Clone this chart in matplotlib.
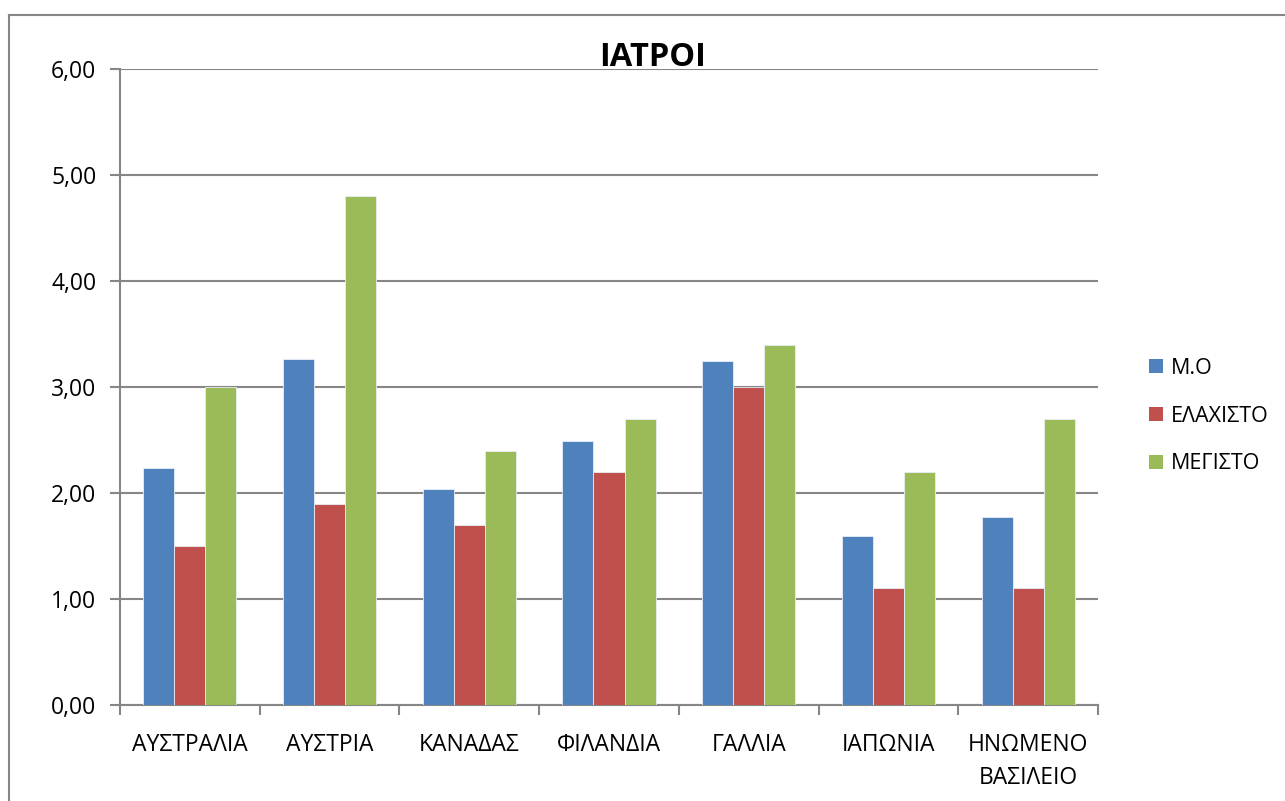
import matplotlib
matplotlib.use('Agg')
from matplotlib import pyplot as plt
from matplotlib.lines import Line2D
from matplotlib.patches import Patch
import numpy as np

plt.rcParams['font.family'] = ['Open Sans', 'DejaVu Sans']

# χώρες και τιμές ανά σειρά
countries = ['ΑΥΣΤΡΑΛΙΑ', 'ΑΥΣΤΡΙΑ', 'ΚΑΝΑΔΑΣ', 'ΦΙΛΑΝΔΙΑ', 'ΓΑΛΛΙΑ', 'ΙΑΠΩΝΙΑ', 'ΗΝΩΜΕΝΟ\nΒΑΣΙΛΕΙΟ']
mo = [2.24, 3.26, 2.04, 2.49, 3.245, 1.59, 1.77]
elaxisto = [1.5, 1.9, 1.7, 2.2, 3.0, 1.1, 1.1]
megisto = [3.0, 4.8, 2.4, 2.7, 3.4, 2.2, 2.7]
series = ['Μ.Ο', 'ΕΛΑΧΙΣΤΟ', 'ΜΕΓΙΣΤΟ']
colors = ['#4F81BD', '#C0504D', '#9BBB59']
yticks = [0, 1, 2, 3, 4, 5, 6]

W, H = 1285, 801
fig = plt.figure(figsize=(W / 100, H / 100), dpi=100)
ax = fig.add_axes([120 / W, 1 - 705 / H, (1098 - 120) / W, (705 - 69) / H])

x = np.arange(len(countries))
bw = 1 / 4.5  # gap width 150%
for i, (vals, c) in enumerate(zip([mo, elaxisto, megisto], colors)):
    ax.bar(x + (i - 1) * bw, vals, width=bw, color=c, edgecolor='#E8EEF6',
           linewidth=0.6, zorder=3, label=series[i])

ax.set_xlim(-0.5, len(countries) - 0.5)
ax.set_ylim(0, 6)
ax.set_yticks(yticks)
ax.set_yticklabels([('%.2f' % v).replace('.', ',') for v in yticks])
ax.yaxis.grid(True, color='#868686', linewidth=1.5, zorder=0)
ax.set_axisbelow(True)

# κατηγορίες: σημάδια στα όρια, ετικέτες στο κέντρο
ax.set_xticks(np.arange(len(countries) + 1) - 0.5)
ax.set_xticklabels([])
ax.set_xticks(x, minor=True)
ax.set_xticklabels(countries, minor=True, fontsize=16.5, linespacing=1.5)
ax.tick_params(axis='x', which='minor', length=0, pad=20)
ax.tick_params(axis='x', which='major', length=7, width=1.5, color='#868686', direction='out')
ax.tick_params(axis='y', length=7, width=1.5, color='#868686', direction='out', labelsize=16.5, pad=10)

for s in ['top', 'right']:
    ax.spines[s].set_visible(False)
for s in ['left', 'bottom']:
    ax.spines[s].set_color('#868686')
    ax.spines[s].set_linewidth(1.5)

fig.text(653 / W, 1 - 58 / H, 'ΙΑΤΡΟΙ', ha='center', va='center', fontsize=23.5, fontweight='bold')

handles = [Patch(facecolor=c, edgecolor='none') for c in colors]
fig.legend(handles, series, loc='center left', bbox_to_anchor=(1130 / W, 1 - 416 / H),
           frameon=False, fontsize=15.5, handlelength=0.65, handleheight=0.65,
           handletextpad=0.35, labelspacing=1.25)

# πλαίσιο γραφήματος
fig.add_artist(Line2D([9 / W, 9 / W], [0, 1 - 15 / H], transform=fig.transFigure,
                      color='#868686', linewidth=1.5))
fig.add_artist(Line2D([9 / W, 1], [1 - 15 / H, 1 - 15 / H], transform=fig.transFigure,
                      color='#868686', linewidth=1.5))

fig.savefig('out.png', dpi=100)
